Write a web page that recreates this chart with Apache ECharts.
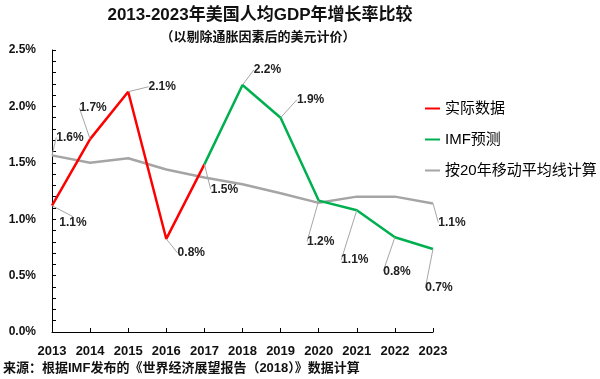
<!DOCTYPE html>
<html>
<head>
<meta charset="utf-8">
<script src="https://cdn.jsdelivr.net/npm/echarts@6/dist/echarts.min.js"></script>
<style>html,body{margin:0;padding:0;background:#fff;}#c{width:600px;height:379px;}</style>
</head>
<body>
<div id="c"></div>
<script>
const titleText = '2013-2023年美国人均GDP年增长率比较';
const subtitleText = '（以剔除通胀因素后的美元计价）';
const sourceText = '来源：根据IMF发布的《世界经济展望报告（2018）》数据计算';
const categories = ['2013','2014','2015','2016','2017','2018','2019','2020','2021','2022','2023'];
const seriesNames = ['实际数据', 'IMF预测', '按20年移动平均线计算'];
const actual =    [1.12, 1.71, 2.13, 0.825, 1.486, null, null, null, null, null, null];
const forecast =  [null, null, null, null, 1.486, 2.19, 1.90, 1.165, 1.08, 0.84, 0.736];
const movingAvg = [1.566, 1.50, 1.54, 1.44, 1.37, 1.31, 1.23, 1.145, 1.20, 1.20, 1.14];
const yTicks = [0, 0.5, 1.0, 1.5, 2.0, 2.5];

// label placement (offset from point, in px) — layout only
const labelOffsets = [
  {0:[21,17], 1:[3,-31], 2:[34,-5], 3:[25,14], 4:[20,25]},
  {5:[25,-15], 6:[30,-18], 7:[2,41], 8:[-2,50], 9:[2,34], 10:[6,39]},
  {0:[18,-18], 10:[19,19]}
];

const FONT = "'Liberation Sans', 'Noto Sans CJK SC', sans-serif";
const colors = ['#FF0000', '#00B050', '#A5A5A5'];

function buildData(arr, offs) {
  return arr.map((v, i) => (offs[i] && v != null) ? {value: v, label: {show: true}} : v);
}

const chart = echarts.init(document.getElementById('c'), null, {renderer: 'canvas'});
const seriesArrays = [actual, forecast, movingAvg];
const series = seriesArrays.map((arr, si) => ({
  name: seriesNames[si],
  type: 'line',
  data: buildData(arr, labelOffsets[si]),
  color: colors[si],
  symbol: 'circle',
  symbolSize: 0,
  showSymbol: true,
  connectNulls: false,
  lineStyle: {width: 2.5, color: colors[si]},
  itemStyle: {color: colors[si]},
  emphasis: {disabled: true},
  z: si === 2 ? 2 : 3,
  label: {
    show: false,
    position: 'inside',
    formatter: p => Number(p.value).toFixed(1) + '%',
    fontFamily: FONT, fontSize: 12, fontWeight: 'bold', color: '#222'
  },
  labelLine: {show: true, lineStyle: {color: '#A6A6A6', width: 1}},
  labelLayout: (params) => {
    const o = labelOffsets[si][params.dataIndex];
    return o ? {dx: o[0], dy: o[1]} : {};
  }
}));

chart.setOption({
  animation: false,
  backgroundColor: '#fff',
  textStyle: {fontFamily: FONT},
  grid: {left: 52, right: 167, top: 50, bottom: 47, containLabel: false},
  xAxis: {
    type: 'category',
    data: categories,
    boundaryGap: false,
    axisLine: {lineStyle: {color: '#000', width: 1}},
    axisTick: {show: true, inside: true, length: 4, alignWithLabel: true, lineStyle: {color: '#000'}},
    axisLabel: {margin: 13, fontFamily: FONT, fontSize: 13, fontWeight: 'bold', color: '#111'},
    splitLine: {show: false}
  },
  yAxis: {
    type: 'value',
    min: yTicks[0],
    max: yTicks[yTicks.length - 1],
    interval: yTicks[1] - yTicks[0],
    axisLine: {show: true, lineStyle: {color: '#000', width: 1}},
    axisTick: {show: true, inside: true, length: 4, lineStyle: {color: '#000'}},
    minorTick: {show: true, splitNumber: 5, length: 4, lineStyle: {color: '#000'}},
    axisLabel: {margin: 16, fontFamily: FONT, fontSize: 12, fontWeight: 'bold', color: '#111',
      formatter: v => v.toFixed(1) + '%'},
    splitLine: {show: false}
  },
  legend: {
    orient: 'vertical',
    left: 425,
    top: 101,
    padding: 0,
    icon: 'rect',
    itemWidth: 15,
    itemHeight: 2,
    itemGap: 16,
    data: seriesNames,
    selectedMode: false,
    textStyle: {fontFamily: FONT, fontSize: 15, color: '#000'}
  },
  graphic: [
    {type: 'text', x: 260, y: 15, style: {text: titleText, textAlign: 'center', textVerticalAlign: 'middle', font: "bold 17px " + FONT, fill: '#111'}, z: 10},
    {type: 'text', x: 258, y: 37, style: {text: subtitleText, textAlign: 'center', textVerticalAlign: 'middle', font: "bold 13px " + FONT, fill: '#111'}, z: 10},
    {type: 'text', x: 3, y: 368, style: {text: sourceText, textAlign: 'left', textVerticalAlign: 'middle', font: "bold 13px " + FONT, fill: '#111'}, z: 10}
  ],
  series: series
});
</script>
</body>
</html>
